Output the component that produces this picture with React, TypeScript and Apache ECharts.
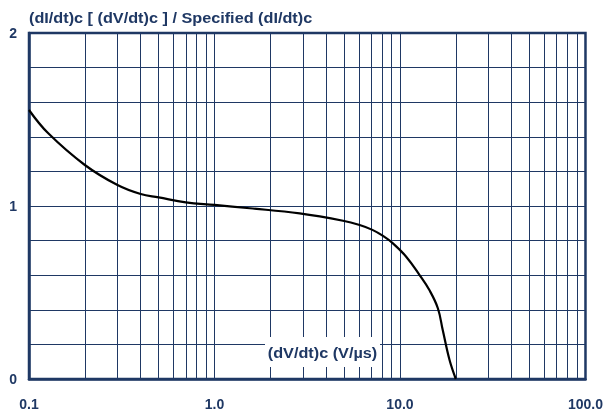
import React, { useEffect, useRef } from "react";
import * as echarts from "echarts";

const xValues = [0.1, 0.127, 0.2, 0.3, 0.4, 0.5, 0.7, 1.0, 1.55, 2.88, 4.93, 6.06, 7.1, 8.1, 9.16, 10.8, 12.75, 14.4, 16.0, 17.0, 18.5, 20];
const yValues = [1.555, 1.42, 1.237, 1.121, 1.069, 1.05, 1.021, 1.006, 0.987, 0.957, 0.915, 0.89, 0.862, 0.827, 0.784, 0.707, 0.601, 0.514, 0.409, 0.283, 0.11, 0];
const gridX = [0.2, 0.3, 0.4, 0.5, 0.6, 0.7, 0.8, 0.9, 1, 2, 3, 4, 5, 6, 7, 8, 9, 10, 20, 30, 40, 50, 60, 70, 80, 90];
const xTickLabels: Record<string, string> = { "0.1": "0.1", "1": "1.0", "10": "10.0", "100": "100.0" };
const yTickLabels = [0, 1, 2];
const title = "(dI/dt)c [ (dV/dt)c ] / Specified (dI/dt)c";
const xName = "(dV/dt)c (V/µs)";

const NAVY = "#1f3864";
const FONT = "Liberation Sans, Arial, sans-serif";

export default function App() {
  const ref = useRef<HTMLDivElement>(null);
  useEffect(() => {
    if (!ref.current) return;
    const chart = echarts.init(ref.current, undefined, { renderer: "svg" });
    chart.setOption({
      animation: false,
      grid: {
        left: 29,
        right: 20,
        top: 33,
        bottom: 38,
        show: true,
        borderColor: NAVY,
        borderWidth: 2.5,
        containLabel: false,
      },
      xAxis: {
        type: "log",
        logBase: 10,
        min: 0.1,
        max: 100,
        axisLine: { show: true, lineStyle: { color: NAVY, width: 2.5 } },
        axisTick: { show: false },
        splitLine: { show: false },
        axisLabel: {
          margin: 18,
          color: NAVY,
          fontFamily: FONT,
          fontWeight: "bold",
          fontSize: 14,
          formatter: (v: number) => {
            const k = String(Number(v.toPrecision(6)));
            return xTickLabels[k] ?? "";
          },
        },
      },
      yAxis: {
        type: "value",
        min: 0,
        max: 2,
        interval: 0.2,
        axisLine: { show: true, lineStyle: { color: NAVY, width: 2.5 } },
        axisTick: { show: false },
        splitLine: { show: true, lineStyle: { color: NAVY, width: 1 } },
        axisLabel: {
          margin: 12,
          color: NAVY,
          fontFamily: FONT,
          fontWeight: "bold",
          fontSize: 14,
          formatter: (v: number) => {
            const r = Math.round(v);
            return Math.abs(v - r) < 1e-6 && yTickLabels.includes(r) ? String(r) : "";
          },
        },
      },
      series: [
        {
          type: "line",
          data: [[1, 1]],
          showSymbol: false,
          lineStyle: { opacity: 0 },
          silent: true,
          z: 1,
          markLine: {
            silent: true,
            symbol: "none",
            label: { show: false },
            lineStyle: { color: NAVY, width: 1, type: "solid" },
            data: gridX.map((v) => ({ xAxis: v })),
            z: 1,
          },
        },
        {
          type: "line",
          data: xValues.map((x, i) => [x, yValues[i]]),
          showSymbol: false,
          smooth: 0.4,
          lineStyle: { color: "#000000", width: 2.2 },
          z: 5,
        },
      ],
      graphic: [
        {
          type: "text",
          x: 29,
          y: 18,
          scaleX: 1.16,
          z: 100,
          style: {
            x: 0,
            y: 0,
            text: title,
            fill: NAVY,
            font: `bold 14px ${FONT}`,
            align: "left",
            verticalAlign: "middle",
          },
        },
        {
          type: "rect",
          shape: { x: 265, y: 337, width: 115, height: 30 },
          style: { fill: "#ffffff" },
          z: 100,
        },
        {
          type: "text",
          x: 322.5,
          y: 353,
          scaleX: 1.16,
          z: 101,
          style: {
            x: 0,
            y: 0,
            text: xName,
            fill: NAVY,
            font: `bold 14px ${FONT}`,
            align: "center",
            verticalAlign: "middle",
          },
        },
      ],
    });
    return () => chart.dispose();
  }, []);
  return <div ref={ref} style={{ width: 606, height: 417, position: "fixed", left: 0, top: 0 }} />;
}
